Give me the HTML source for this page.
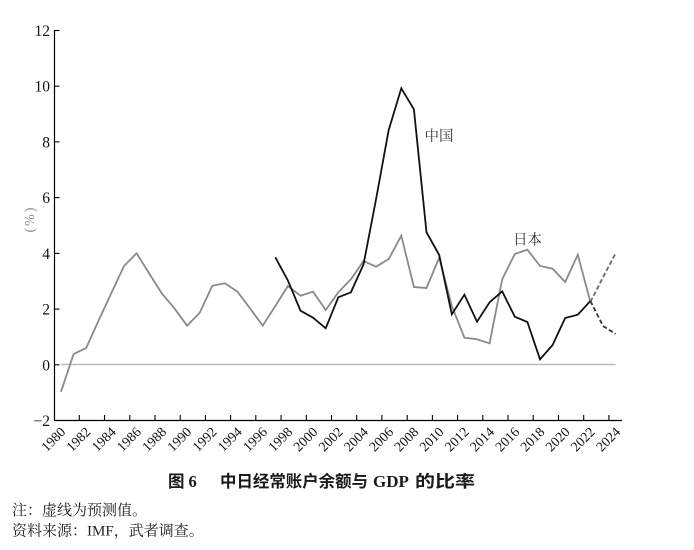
<!DOCTYPE html>
<html><head><meta charset="utf-8"><style>
html,body{margin:0;padding:0;background:#fff;}
svg{display:block;}
</style></head><body>
<svg width="694" height="550" viewBox="0 0 694 550" xmlns="http://www.w3.org/2000/svg">
<rect width="694" height="550" fill="#fff"/>
<!-- zero line -->
<line x1="61" y1="364.5" x2="615.6" y2="364.5" stroke="#bdbdbd" stroke-width="1.5"/>
<!-- axes -->
<line x1="54.5" y1="30" x2="54.5" y2="420.5" stroke="#000" stroke-width="1.2"/>
<line x1="54" y1="420.5" x2="622" y2="420.5" stroke="#000" stroke-width="1.2"/>
<!-- y ticks -->
<g stroke="#000" stroke-width="1.1">
<line x1="54.5" y1="30.5" x2="59.5" y2="30.5"/>
<line x1="54.5" y1="86.2" x2="59.5" y2="86.2"/>
<line x1="54.5" y1="141.9" x2="59.5" y2="141.9"/>
<line x1="54.5" y1="197.6" x2="59.5" y2="197.6"/>
<line x1="54.5" y1="253.4" x2="59.5" y2="253.4"/>
<line x1="54.5" y1="309.1" x2="59.5" y2="309.1"/>
<line x1="54.5" y1="364.8" x2="59.5" y2="364.8"/>
</g>
<g font-family="Liberation Serif, serif" font-size="15.5" fill="#111" text-anchor="end">
<text x="50" y="36">12</text>
<text x="50" y="91.7">10</text>
<text x="50" y="147.4">8</text>
<text x="50" y="203.1">6</text>
<text x="50" y="258.9">4</text>
<text x="50" y="314.6">2</text>
<text x="50" y="370.3">0</text>
<text x="50" y="426">−2</text>
</g>
<!-- y axis label -->
<text transform="translate(34,219) rotate(-90)" font-family="Liberation Serif, serif" font-size="14" fill="#888" text-anchor="middle" letter-spacing="2">(%)</text>
<!-- x ticks -->
<g stroke="#000" stroke-width="1.1">
<line x1="79.3" y1="420" x2="79.3" y2="415"/>
<line x1="104.5" y1="420" x2="104.5" y2="415"/>
<line x1="129.8" y1="420" x2="129.8" y2="415"/>
<line x1="155.0" y1="420" x2="155.0" y2="415"/>
<line x1="180.2" y1="420" x2="180.2" y2="415"/>
<line x1="205.4" y1="420" x2="205.4" y2="415"/>
<line x1="230.6" y1="420" x2="230.6" y2="415"/>
<line x1="255.8" y1="420" x2="255.8" y2="415"/>
<line x1="281.1" y1="420" x2="281.1" y2="415"/>
<line x1="306.3" y1="420" x2="306.3" y2="415"/>
<line x1="331.5" y1="420" x2="331.5" y2="415"/>
<line x1="356.7" y1="420" x2="356.7" y2="415"/>
<line x1="381.9" y1="420" x2="381.9" y2="415"/>
<line x1="407.2" y1="420" x2="407.2" y2="415"/>
<line x1="432.4" y1="420" x2="432.4" y2="415"/>
<line x1="457.6" y1="420" x2="457.6" y2="415"/>
<line x1="482.8" y1="420" x2="482.8" y2="415"/>
<line x1="508.0" y1="420" x2="508.0" y2="415"/>
<line x1="533.2" y1="420" x2="533.2" y2="415"/>
<line x1="558.5" y1="420" x2="558.5" y2="415"/>
<line x1="583.7" y1="420" x2="583.7" y2="415"/>
<line x1="608.9" y1="420" x2="608.9" y2="415"/>
</g>
<!-- x labels -->
<g font-family="Liberation Serif, serif" font-size="13.8" fill="#111" text-anchor="end">
<text transform="translate(66.2,432.7) rotate(-45)">1980</text>
<text transform="translate(91.4,432.7) rotate(-45)">1982</text>
<text transform="translate(116.7,432.7) rotate(-45)">1984</text>
<text transform="translate(141.9,432.7) rotate(-45)">1986</text>
<text transform="translate(167.1,432.7) rotate(-45)">1988</text>
<text transform="translate(192.3,432.7) rotate(-45)">1990</text>
<text transform="translate(217.5,432.7) rotate(-45)">1992</text>
<text transform="translate(242.8,432.7) rotate(-45)">1994</text>
<text transform="translate(268.0,432.7) rotate(-45)">1996</text>
<text transform="translate(293.2,432.7) rotate(-45)">1998</text>
<text transform="translate(318.4,432.7) rotate(-45)">2000</text>
<text transform="translate(343.6,432.7) rotate(-45)">2002</text>
<text transform="translate(368.9,432.7) rotate(-45)">2004</text>
<text transform="translate(394.1,432.7) rotate(-45)">2006</text>
<text transform="translate(419.3,432.7) rotate(-45)">2008</text>
<text transform="translate(444.5,432.7) rotate(-45)">2010</text>
<text transform="translate(469.7,432.7) rotate(-45)">2012</text>
<text transform="translate(495.0,432.7) rotate(-45)">2014</text>
<text transform="translate(520.2,432.7) rotate(-45)">2016</text>
<text transform="translate(545.4,432.7) rotate(-45)">2018</text>
<text transform="translate(570.6,432.7) rotate(-45)">2020</text>
<text transform="translate(595.8,432.7) rotate(-45)">2022</text>
<text transform="translate(621.1,432.7) rotate(-45)">2024</text>
</g>
<!-- Japan -->
<polyline fill="none" stroke="#8a8a8a" stroke-width="1.8" stroke-linejoin="miter" points="61.0,391.7 73.6,354 86.2,348 98.8,320 111.4,293 124.0,266 136.6,253.3 149.2,273.5 161.8,293.3 174.4,308.3 187.1,325.7 199.7,312.7 212.3,285.8 224.9,283.3 237.5,291.7 250.1,308.5 262.7,325.7 275.3,306 287.9,286 300.5,295.7 313.1,291.7 325.7,310 338.3,292.3 350.9,279.3 363.5,261 376.1,266.7 388.7,259 401.3,235.7 413.9,287 426.5,288 439.2,257.7 451.8,306 464.4,337.7 477.0,339.3 489.6,343.3 502.2,279.3 514.8,254 527.4,249.7 540.0,266 552.6,268.7 565.2,282 577.8,254.7 590.4,302"/>
<polyline fill="none" stroke="#6a6a6a" stroke-width="1.8" stroke-dasharray="4.5,2.5" points="590.4,302 603.0,277.3 615.6,253.3"/>
<!-- China -->
<polyline fill="none" stroke="#111" stroke-width="1.8" stroke-linejoin="miter" points="275.3,257.3 287.9,280.5 300.5,310.7 313.1,317.7 325.7,328.3 338.3,297.3 350.9,292.3 363.5,264.5 376.1,199 388.7,130 401.3,88.3 413.9,109.3 426.5,232.3 439.2,255 451.8,314.3 464.4,294.7 477.0,321.7 489.6,302.3 502.2,291.3 514.8,316.7 527.4,322 540.0,359.3 552.6,345 565.2,318 577.8,314.7 590.4,301"/>
<polyline fill="none" stroke="#333" stroke-width="1.8" stroke-dasharray="4.5,2.5" points="590.4,301 603.0,326 615.6,334"/>
<!-- series labels -->
<g font-family="Noto Serif CJK SC, serif" font-size="14.5" fill="#333">
<text x="424.5" y="141">中国</text>
<text x="513" y="244.5">日本</text>
</g>
<!-- title -->
<g font-weight="bold" fill="#1a1a1a" font-size="16.5">
<text x="168" y="487" font-family="Noto Sans CJK SC, sans-serif">图</text>
<text x="188.5" y="487" font-family="Liberation Serif, serif">6</text>
<text x="220" y="487" font-family="Noto Sans CJK SC, sans-serif" textLength="148" lengthAdjust="spacingAndGlyphs">中日经常账户余额与</text>
<text x="373" y="487" font-family="Liberation Serif, serif" font-size="17">GDP</text>
<text x="415" y="487" font-family="Noto Sans CJK SC, sans-serif" textLength="60" lengthAdjust="spacingAndGlyphs">的比率</text>
</g>
<!-- notes -->
<g font-size="15" fill="#222">
<text x="12" y="515" font-family="Noto Serif CJK SC, serif">注：虚线为预测值。</text>
<text x="12" y="535.5" font-family="Liberation Serif, Noto Serif CJK SC, serif"><tspan font-family="Noto Serif CJK SC, serif">资料来源：</tspan>IMF<tspan font-family="Noto Serif CJK SC, serif">，武者调查。</tspan></text>
</g>
</svg>
</body></html>
